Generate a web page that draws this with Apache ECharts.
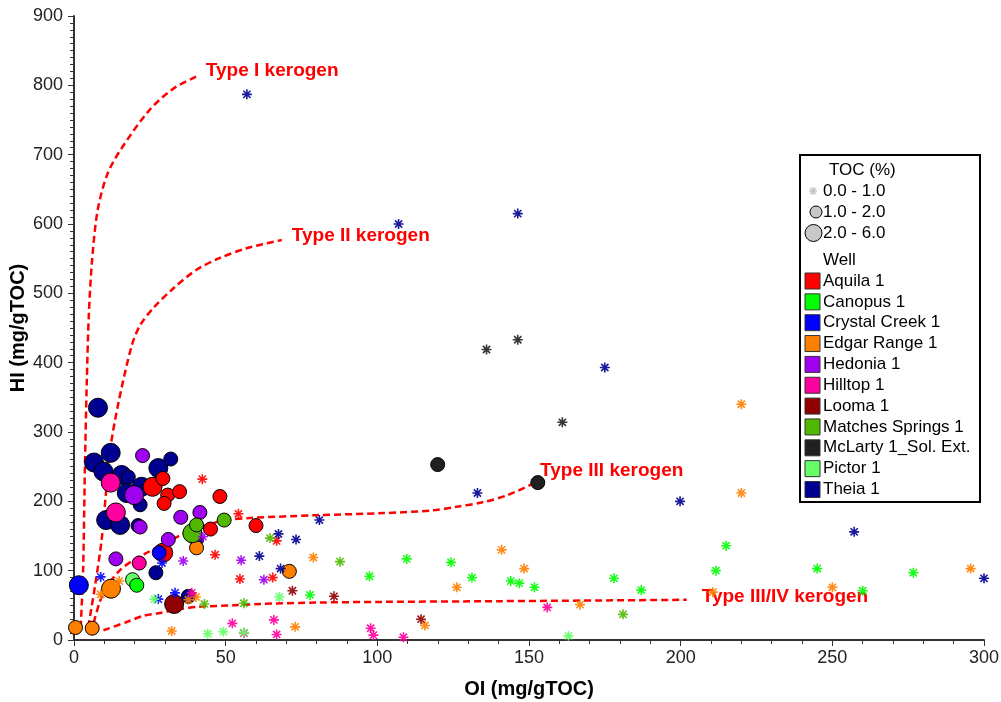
<!DOCTYPE html>
<html>
<head>
<meta charset="utf-8">
<script src="https://cdn.jsdelivr.net/npm/echarts@6/dist/echarts.min.js"></script>
<style>
html, body { margin: 0; padding: 0; background: #fff; }
#chart { width: 1001px; height: 702px; }
</style>
</head>
<body>
<div id="chart"></div>
<script>
// Rock-Eval pyrolysis: Oxygen Index vs Hydrogen Index, per well.
// Each sample: [OI (mg/gTOC), HI (mg/gTOC), TOC class]
// TOC class: 0 = 0.0-1.0 %, 1 = 1.0-2.0 %, 2 = 2.0-6.0 %
const wells = ['Aquila 1', 'Canopus 1', 'Crystal Creek 1', 'Edgar Range 1', 'Hedonia 1', 'Hilltop 1',
  'Looma 1', 'Matches Springs 1', 'McLarty 1_Sol. Ext.', 'Pictor 1', 'Theia 1'];
const wellColors = ['#ff0000', '#00ff00', '#0000ff', '#ff8000', '#a000f0', '#ff00a0',
  '#900000', '#50b800', '#202020', '#66ff66', '#000090'];
const tocClasses = ['0.0 - 1.0', '1.0 - 2.0', '2.0 - 6.0'];

const aquila = [
  [25.9, 221, 2], [29.3, 233, 1], [30.9, 209, 1], [29.7, 197, 1], [34.8, 214, 1], [48.1, 207, 1],
  [45, 160, 1], [60, 165, 1], [29.4, 126, 2],
  [42.3, 232, 0], [54.2, 182, 0], [54.7, 88, 0], [46.5, 123, 0], [66.8, 143, 0], [65.5, 90, 0]
];
const canopus = [
  [20.7, 79, 1],
  [77.8, 65, 0], [97.4, 92, 0], [109.7, 117, 0], [124.3, 112, 0], [131.2, 90, 0], [144, 85, 0],
  [146.8, 82, 0], [151.8, 76, 0], [178, 89, 0], [187, 72, 0], [211.6, 100, 0], [215, 136, 0],
  [245, 103, 0], [260, 71, 0], [276.7, 97, 0]
];
const crystalCreek = [
  [1.6, 79, 2], [28.1, 126, 1],
  [8.8, 91, 0], [27.8, 59, 0], [33.3, 68, 0], [29, 111, 0]
];
const edgarRange = [
  [12.2, 74, 2], [0.5, 18, 1], [6, 17, 1], [40.4, 133, 1], [71, 99, 1],
  [14.9, 85, 0], [8.8, 66, 0], [37.7, 58, 0], [40.2, 62, 0], [32.2, 13, 0], [72.9, 19, 0],
  [78.9, 119, 0], [115.7, 21, 0], [126.2, 76, 0], [141, 130, 0], [148.4, 103, 0], [166.8, 51, 0],
  [220, 340, 0], [220, 212, 0], [250, 76, 0], [295.6, 103, 0], [210.6, 69, 0]
];
const hedonia = [
  [22.6, 266, 1], [19.8, 209, 2], [21.8, 163, 1], [35.2, 177, 1], [41.5, 184, 1], [31.1, 145, 1],
  [13.8, 117, 1],
  [36, 114, 0], [55.1, 115, 0], [62.6, 87, 0], [42.5, 149, 0]
];
const hilltop = [
  [12.1, 227, 2], [13.8, 184, 2], [21.5, 111, 1],
  [38.8, 68, 0], [52.2, 24, 0], [56, 10, 0], [65.9, 29, 0], [66.8, 8, 0], [97.8, 17, 0],
  [98.7, 7, 0], [108.6, 4, 0], [156, 47, 0]
];
const looma = [
  [33, 52, 2],
  [72, 71, 0], [85.7, 63, 0], [114.4, 30, 0]
];
const matchesSprings = [
  [39, 154, 2], [40.4, 166, 1], [49.5, 173, 1],
  [64.6, 147, 0], [87.7, 113, 0], [43, 52, 0], [56, 53, 0], [181, 37, 0]
];
const mclarty = [
  [119.9, 253, 1], [152.9, 227, 1],
  [136, 419, 0], [146.3, 433, 0], [161, 314, 0]
];
const pictor = [
  [19.3, 87, 1],
  [67.7, 62, 0], [26.5, 59, 0], [44.1, 9, 0], [49.2, 12, 0], [56, 11, 0], [163, 6, 0]
];
const theia = [
  [7.9, 335, 2], [12.1, 270, 2], [6.6, 256, 2], [9.7, 243, 2], [15.7, 238, 2], [17.9, 235, 1],
  [27.8, 248, 2], [31.9, 261, 1], [17.4, 212, 2], [22.3, 221, 2], [21.8, 195, 1], [10.6, 173, 2],
  [15.2, 166, 2], [27, 97, 1], [37.7, 63, 1], [40.4, 145, 1], [21.1, 165, 1],
  [57, 787, 0], [107, 600, 0], [146.3, 615, 0], [175, 393, 0], [133, 212, 0], [199.8, 200, 0],
  [257.2, 156, 0], [300, 89, 0], [80.9, 173, 0], [67.4, 153, 0], [73.2, 145, 0], [61.1, 121, 0],
  [68.1, 103, 0]
];
const wellData = [aquila, canopus, crystalCreek, edgarRange, hedonia, hilltop, looma,
  matchesSprings, mclarty, pictor, theia];

// Kerogen type evolution paths [OI, HI]
const kerogenNames = ['Type I kerogen', 'Type II kerogen', 'Type III kerogen', 'Type III/IV kerogen'];
const typeI = [[2.2, 18], [3, 100], [3.6, 250], [4.2, 370], [4.9, 470], [6, 550], [7.8, 620],
  [11, 672], [15.5, 708], [25, 765], [33, 796], [40.5, 813]];
const typeII = [[4.7, 19], [7, 80], [9.1, 144], [10.5, 210], [11.9, 274], [14.6, 341], [19, 424],
  [21.8, 454], [26.2, 479], [32.7, 507], [40.4, 534], [48.1, 551], [56.9, 565], [68.5, 577]];
const typeIII = [[6.5, 25], [8.5, 55], [10.8, 77], [15, 100], [19.5, 115], [25, 128], [31, 142],
  [36, 153], [42.6, 164], [50, 173], [58, 176], [80, 180], [102, 183], [118.4, 187], [126, 192],
  [135, 199], [143, 209], [153, 229]];
const typeIIIIV = [[9.7, 14], [17.4, 26], [22.9, 35], [28.4, 39], [33.9, 44], [41.5, 48],
  [52.5, 50], [61.3, 52], [80, 54], [102, 55], [140, 56], [202, 58]];
const kerogenPaths = [typeI, typeII, typeIII, typeIIIIV];

const FONT = "'Liberation Sans', Arial, sans-serif";
const ASTERISK = 'path://M0,-5L0,5M-5,0L5,0M-3.6,-3.6L3.6,3.6M-3.6,3.6L3.6,-3.6';

const chart = echarts.init(document.getElementById('chart'), null, { renderer: 'canvas' });

const series = [];

// kerogen paths with their end labels
const labelOffsets = [[1, -6], [2, -4], [-6, -10], [7, -3]];
kerogenPaths.forEach((path, k) => {
  series.push({
    type: 'line',
    name: kerogenNames[k],
    data: path,
    symbol: 'none',
    smooth: 0.3,
    z: 2,
    silent: true,
    lineStyle: { color: '#ff0000', width: 2.5, type: [7, 4] },
    endLabel: {
      show: true,
      formatter: kerogenNames[k],
      color: '#ff0000',
      fontFamily: FONT,
      fontWeight: 'bold',
      fontSize: 19,
      distance: 8,
      offset: labelOffsets[k]
    }
  });
});

// TOC > 1 % samples as circles, drawn back to front
const circleOrder = [10, 9, 0, 1, 2, 3, 4, 5, 6, 7, 8];
circleOrder.forEach(i => {
  series.push({
    type: 'scatter',
    name: wells[i],
    data: wellData[i].filter(p => p[2] > 0),
    symbol: 'circle',
    symbolSize: v => (v[2] === 2 ? 19 : 14),
    z: 3,
    silent: true,
    itemStyle: { color: wellColors[i], borderColor: '#000', borderWidth: 1, opacity: 1 }
  });
});

// TOC < 1 % samples as asterisks
wells.forEach((w, i) => {
  series.push({
    type: 'scatter',
    name: w,
    data: wellData[i].filter(p => p[2] === 0),
    symbol: ASTERISK,
    symbolSize: 10,
    z: 4,
    silent: true,
    itemStyle: { color: wellColors[i], borderColor: wellColors[i], borderWidth: 1.6, opacity: 0.9 }
  });
});

// Legend box
const graphic = [];
const box = { x: 800, y: 155, w: 180, h: 347 };
graphic.push({
  type: 'rect', shape: { x: box.x, y: box.y, width: box.w, height: box.h },
  style: { fill: '#fff', stroke: '#000', lineWidth: 2 }, z: 10
});
const txt = (x, y, s) => ({
  type: 'text', x: x, y: y, z: 11,
  style: { text: s, fill: '#000', font: '17px ' + FONT, textVerticalAlign: 'middle', verticalAlign: 'middle' }
});
graphic.push(txt(829, 170, 'TOC (%)'));
const tocRowY = [191, 212, 233];
// asterisk sample
const sx = 813, sy = tocRowY[0];
[[0, -4, 0, 4], [-4, 0, 4, 0], [-3, -3, 3, 3], [-3, 3, 3, -3]].forEach(s => {
  graphic.push({
    type: 'line', z: 11,
    shape: { x1: sx + s[0], y1: sy + s[1], x2: sx + s[2], y2: sy + s[3] },
    style: { stroke: '#c0c0c0', lineWidth: 1.3 }
  });
});
graphic.push({ type: 'circle', z: 11, shape: { cx: 816, cy: tocRowY[1], r: 6 },
  style: { fill: '#c8c8c8', stroke: '#000', lineWidth: 1 } });
graphic.push({ type: 'circle', z: 11, shape: { cx: 813.5, cy: tocRowY[2], r: 8.5 },
  style: { fill: '#c8c8c8', stroke: '#000', lineWidth: 1 } });
tocClasses.forEach((c, j) => graphic.push(txt(823, tocRowY[j], c)));
graphic.push(txt(823, 260, 'Well'));
wells.forEach((w, i) => {
  const y = 281 + i * 20.85;
  graphic.push({
    type: 'rect', z: 11, shape: { x: 805, y: y - 8, width: 15, height: 16 },
    style: { fill: wellColors[i], stroke: '#333', lineWidth: 1 }
  });
  graphic.push(txt(823, y, w));
});

const axisCommon = {
  axisLine: { show: true, lineStyle: { color: '#333', width: 2 } },
  axisTick: { show: true, inside: false, length: 6, lineStyle: { color: '#333', width: 1 } },
  minorTick: { show: true, length: 4, lineStyle: { color: '#333', width: 1 } },
  splitLine: { show: false },
  axisLabel: { color: '#222', fontFamily: FONT, fontSize: 18 },
  nameTextStyle: { color: '#000', fontFamily: FONT, fontWeight: 'bold', fontSize: 20 },
  nameMoveOverlap: false
};

chart.setOption({
  animation: false,
  backgroundColor: '#fff',
  grid: { left: 74, right: 17, top: 16, bottom: 62, containLabel: false, outerBoundsMode: 'none' },
  xAxis: Object.assign({}, axisCommon, {
    type: 'value', min: 0, max: 300, interval: 50,
    name: 'OI (mg/gTOC)', nameLocation: 'middle', nameGap: 39,
    minorTick: Object.assign({}, axisCommon.minorTick, { splitNumber: 5 }),
    axisLabel: Object.assign({}, axisCommon.axisLabel, { margin: 9 })
  }),
  yAxis: Object.assign({}, axisCommon, {
    type: 'value', min: 0, max: 900, interval: 100,
    name: 'HI (mg/gTOC)', nameLocation: 'middle', nameGap: 46,
    minorTick: Object.assign({}, axisCommon.minorTick, { splitNumber: 10 }),
    axisLabel: Object.assign({}, axisCommon.axisLabel, { margin: 11 })
  }),
  series: series,
  graphic: graphic
});
</script>
</body>
</html>
